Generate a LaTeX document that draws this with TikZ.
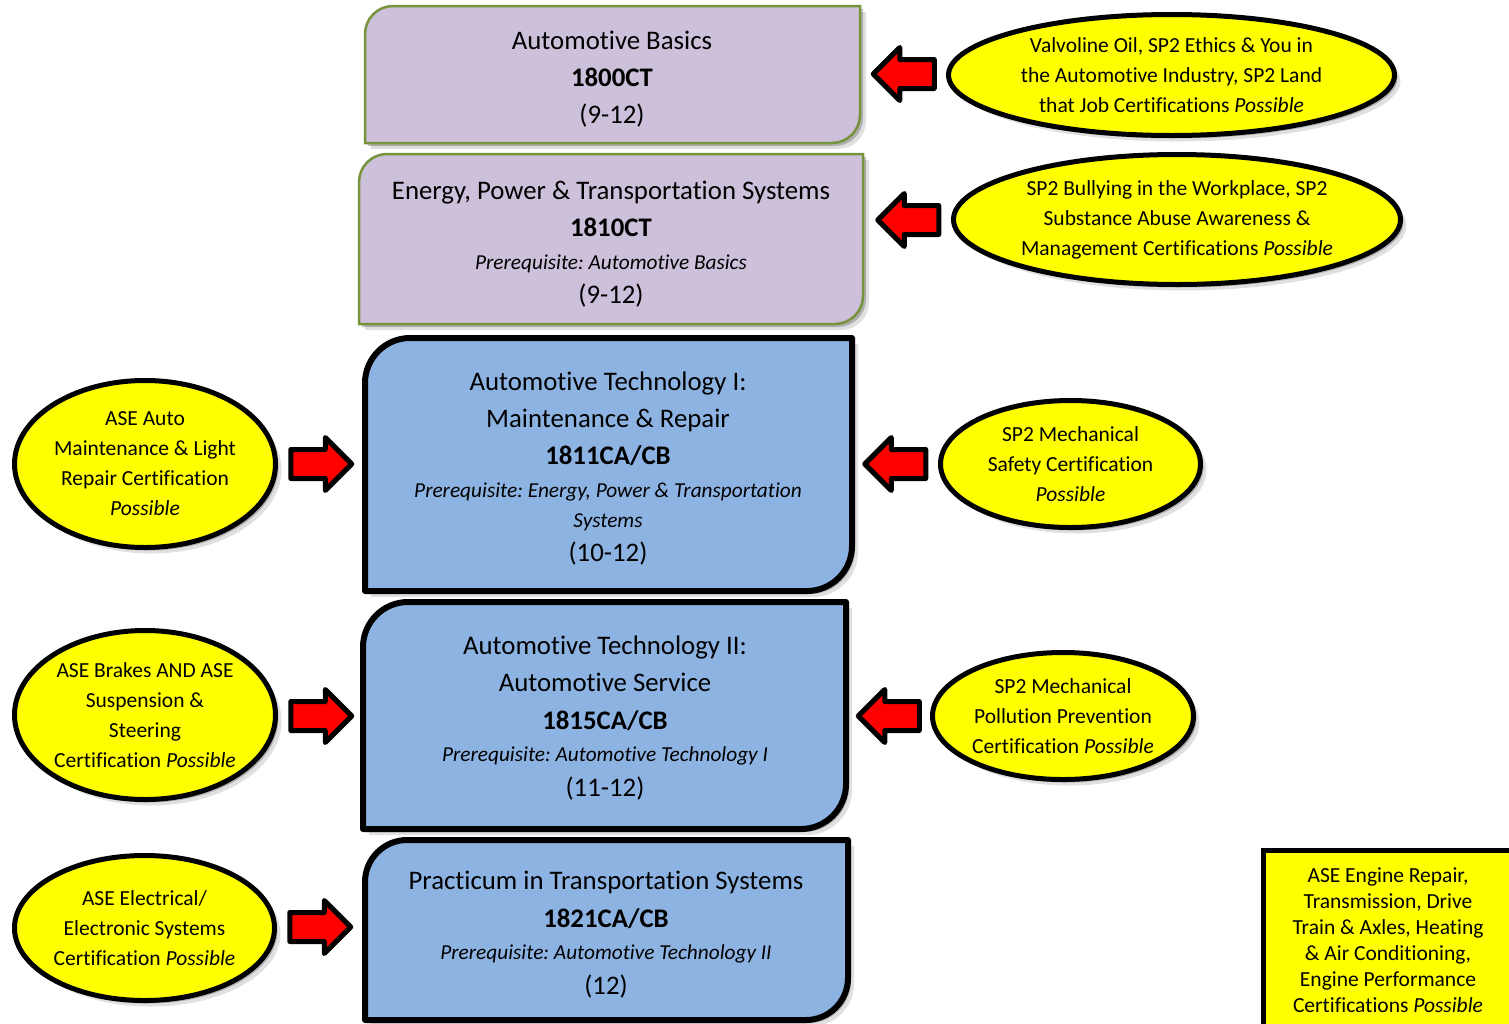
\documentclass[tikz,border=0pt]{standalone}
\usepackage{fontspec}
\setmainfont{Carlito}[RawFeature=-liga]
\frenchspacing
\usetikzlibrary{shapes.geometric,shapes.arrows,shadows}

\definecolor{lav}{HTML}{CCC0DA}
\definecolor{grn}{HTML}{77933C}
\definecolor{blu}{HTML}{8DB3E2}
\definecolor{yel}{HTML}{FFFF00}

% box with rounded top-left and bottom-right corners: x1 y1 x2 y2 r style
\newcommand\diagcornerbox[6]{%
 \path[#6] (#1,#2+#5) .. controls (#1,#2+0.45*#5) and (#1+0.45*#5,#2) .. (#1+#5,#2)
   -- (#3,#2) -- (#3,#4-#5) .. controls (#3,#4-0.45*#5) and (#3-0.45*#5,#4) .. (#3-#5,#4)
   -- (#1,#4) -- cycle;}

\tikzset{
  softshadow/.style={drop shadow={shadow xshift=6pt,shadow yshift=-6pt,opacity=.12,fill=black},
                     drop shadow={shadow xshift=3pt,shadow yshift=-3pt,opacity=.22,fill=black}},
  purplebox/.style={fill=lav,draw=grn,line width=2.5pt,softshadow},
  bluebox/.style={fill=blu,draw=black,line width=6pt,line join=round,softshadow},
  ttl/.style={anchor=base,inner sep=0,font=\fontsize{26.8}{30}\selectfont},
  code/.style={anchor=base,inner sep=0,font=\fontsize{26.8}{30}\selectfont\bfseries},
  prq/.style={anchor=base,inner sep=0,font=\fontsize{21.3}{25}\selectfont\itshape},
  cert/.style={ellipse,fill=yel,draw=black,line width=5pt,inner sep=0,align=center,
               font=\fontsize{21.5}{30}\selectfont,softshadow},
  redarrow/.style={single arrow,fill=red,draw=black,line width=5pt,line join=round,
                   inner sep=0,minimum height=61pt,minimum width=49pt,
                   single arrow head extend=12pt,single arrow tip angle=90},
}
\newcommand\shaft{\rule{0pt}{24pt}}

\begin{document}
\begin{tikzpicture}[x=1pt,y=-1pt]
\useasboundingbox (0,0) rectangle (1509,1023);
\clip (0,0) rectangle (1509,1023);

% course boxes
\diagcornerbox{365}{6}{860}{143}{28}{purplebox}
\node[ttl]  (b1t) at (612,49.5) {Automotive Basics};
\node[code] (b1c) at (612,86.5) {1800CT};
\node[ttl]  (b1g) at (612,123.5) {(9-12)};

\diagcornerbox{359}{154}{863}{324}{28}{purplebox}
\node[ttl]  (b2t) at (611,199.5) {Energy, Power \& Transportation Systems};
\node[code] (b2c) at (611,236.5) {1810CT};
\node[prq]  (b2p) at (611,269) {Prerequisite: Automotive Basics};
\node[ttl]  (b2g) at (611,303.5) {(9-12)};

\diagcornerbox{365}{338}{852}{591}{45}{bluebox}
\node[ttl]  (b3t) at (608,390.5) {Automotive Technology I:};
\node[ttl]  (b3u) at (608,427.5) {Maintenance \& Repair};
\node[code] (b3c) at (608,464.5) {1811CA/CB};
\node[prq]  (b3p) at (608,497) {Prerequisite: Energy, Power \& Transportation};
\node[prq]  (b3q) at (608,527) {Systems};
\node[ttl]  (b3g) at (608,561.5) {(10-12)};

\diagcornerbox{363}{602}{846}{829}{45}{bluebox}
\node[ttl]  (b4t) at (605,654.5) {Automotive Technology II:};
\node[ttl]  (b4u) at (605,691.5) {Automotive Service};
\node[code] (b4c) at (605,729.5) {1815CA/CB};
\node[prq]  (b4p) at (605,761) {Prerequisite: Automotive Technology I};
\node[ttl]  (b4g) at (605,796.5) {(11-12)};

\diagcornerbox{365}{840}{848}{1020}{42}{bluebox}
\node[ttl]  (b5t) at (606,889.5) {Practicum in Transportation Systems};
\node[code] (b5c) at (606,927.5) {1821CA/CB};
\node[prq]  (b5p) at (606,959) {Prerequisite: Automotive Technology II};
\node[ttl]  (b5g) at (606,994.5) {(12)};

% certification ellipses, right side
\node[cert,minimum width=446pt,minimum height=121pt] (e1) at (1171.5,75) {Valvoline Oil, SP2 Ethics \& You in\\the Automotive Industry, SP2 Land\\that Job Certifications \textit{Possible}};
\node[cert,minimum width=447pt,minimum height=130pt] (e2) at (1177,219.5) {SP2 Bullying in the Workplace, SP2\\Substance Abuse Awareness \&\\Management Certifications \textit{Possible}};
\node[cert,minimum width=260pt,minimum height=127pt] (e3) at (1070.5,464) {SP2 Mechanical\\Safety Certification\\\textit{Possible}};
\node[cert,minimum width=261pt,minimum height=127pt] (e4) at (1063,716) {SP2 Mechanical\\Pollution Prevention\\Certification \textit{Possible}};

% certification ellipses, left side
\node[cert,minimum width=261pt,minimum height=167pt] (l1) at (145,464) {ASE Auto\\Maintenance \& Light\\Repair Certification\\\textit{Possible}};
\node[cert,minimum width=261pt,minimum height=169pt] (l2) at (145,715) {ASE Brakes AND ASE\\Suspension \&\\Steering\\Certification \textit{Possible}};
\node[cert,minimum width=260pt,minimum height=145pt] (l3) at (144.5,928) {ASE Electrical/\\Electronic Systems\\Certification \textit{Possible}};

% bottom-right certification box
\node[draw=black,fill=yel,line width=5pt,minimum width=250pt,minimum height=180pt,
      inner sep=0,align=center,font=\fontsize{21.5}{26}\selectfont] (br) at (1388,940)
  {ASE Engine Repair,\\Transmission, Drive\\Train \& Axles, Heating\\\& Air Conditioning,\\Engine Performance\\Certifications \textit{Possible}};

% block arrows
\node[redarrow,shape border rotate=180] (a1) at (911,74) {\shaft};
\node[redarrow,shape border rotate=180] (a2) at (915.5,220) {\shaft};
\node[redarrow,shape border rotate=180] (a3) at (902.5,464) {\shaft};
\node[redarrow,shape border rotate=180] (a4) at (896,716) {\shaft};
\node[redarrow] (a5) at (314,464) {\shaft};
\node[redarrow] (a6) at (314,716) {\shaft};
\node[redarrow] (a7) at (313,927) {\shaft};
\end{tikzpicture}
\end{document}
